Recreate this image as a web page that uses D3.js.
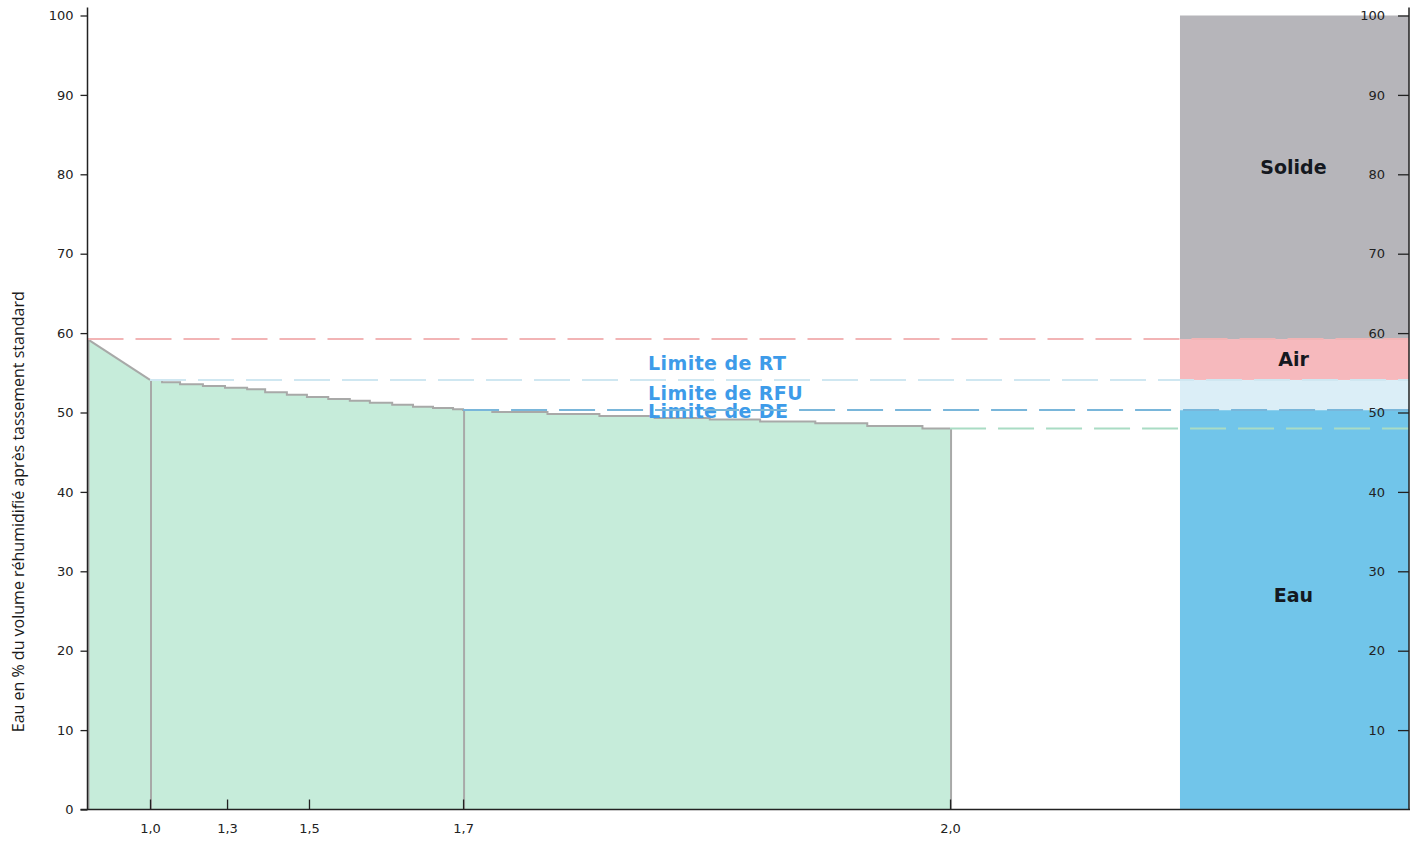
<!DOCTYPE html>
<html lang="fr">
<head>
<meta charset="utf-8">
<script src="https://cdn.jsdelivr.net/npm/d3@7"></script>
<style>
  html, body { margin: 0; padding: 0; background: #fff; }
  svg { display: block; }
  .tick text { font-family: "DejaVu Sans", Verdana, sans-serif; font-size: 13px; fill: #222; }
</style>
</head>
<body>
<svg id="chart" width="1415" height="843"></svg>
<script>
// ---- Data ---------------------------------------------------------------
// pF ticks on the x axis and water-content ticks (% of volume) on both y axes
const pfTicks = [1.0, 1.3, 1.5, 1.7, 2.0];
const yTicksLeft = [0, 10, 20, 30, 40, 50, 60, 70, 80, 90, 100];
const yTicksRight = [10, 20, 30, 40, 50, 60, 70, 80, 90, 100];

// Saturated water content at pF 0
const saturationPf = 0;
const saturationTheta = 59.25;

// Drying curve after pF 1.0: each value holds until the next pF
const dryingPf = [1.0, 1.047, 1.117, 1.206, 1.292, 1.349, 1.393, 1.446, 1.495,
                  1.525, 1.553, 1.579, 1.608, 1.635, 1.661, 1.687,
                  1.7, 1.718, 1.752, 1.784, 1.818, 1.852, 1.883, 1.917, 1.949, 1.983, 2.0];
const dryingTheta = [54.1, 53.8, 53.55, 53.34, 53.12, 52.92, 52.54, 52.24, 51.95,
                     51.7, 51.49, 51.23, 50.98, 50.73, 50.57, 50.4,
                     50.3, 50.06, 49.81, 49.56, 49.31, 49.12, 48.87, 48.64, 48.3, 48.0, 48.0];

// Hydric limits
const limitNames = ["Limite de RT", "Limite de RFU", "Limite de DE"];
const limitPf = [1.0, 1.7, 2.0];
const limitTheta = [54.1, 50.3, 48.0];

// Volume composition column (bottom to top)
const phaseNames = ["Eau", "", "Air", "Solide"];
const phaseBounds = [0, 50.3, 54.1, 59.25, 100];

// ---- Layout & style -----------------------------------------------------
const W = 1415, H = 843;
const margin = { top: 15.5, right: 6, bottom: 33.5, left: 87.5 };
const innerW = W - margin.left - margin.right;
const innerH = H - margin.top - margin.bottom;

// Horizontal placement of pF stops along the plot width (fractions)
const pfStopFractions = [0, 0.0473, 0.1056, 0.1676, 0.2842, 0.6527];
const columnFractions = [0.8267, 1.0];
const labelPf = 1.814;

const phaseColors = ["#71c5ea", "#dbeef7", "#f6b9bd", "#b6b5ba"];
const phaseLabelTheta = [27.0, null, 56.7, 80.9];
const satLineColor = "#f2b4b5";
const limitColors = ["#cfe7f1", "#79b6da", "#a9dcc4"];
const areaFill = "#c6ecda";
const curveStroke = "#a8a9a8";
const limitLabelColor = "#3d9be9";

// ---- Scales -------------------------------------------------------------
const x = d3.scaleLinear()
  .domain([saturationPf, ...pfTicks])
  .range(pfStopFractions.map(f => f * innerW));
const y = d3.scaleLinear().domain([0, 100]).range([innerH, 0]);

const frLocale = d3.formatLocale({ decimal: ",", thousands: " ", grouping: [3], currency: ["", " €"] });
const fmtPf = frLocale.format(".1f");

const svg = d3.select("#chart");
const g = svg.append("g").attr("transform", `translate(${margin.left},${margin.top})`);

// ---- Composition column -------------------------------------------------
const colX0 = columnFractions[0] * innerW, colX1 = columnFractions[1] * innerW;
const phases = phaseNames.map((name, i) => ({
  name, lo: phaseBounds[i], hi: phaseBounds[i + 1], color: phaseColors[i], labelAt: phaseLabelTheta[i]
}));
g.selectAll("rect.phase").data(phases).join("rect")
  .attr("class", "phase")
  .attr("x", colX0).attr("width", colX1 - colX0)
  .attr("y", d => y(d.hi)).attr("height", d => y(d.lo) - y(d.hi))
  .attr("fill", d => d.color);

// ---- Drying curve area --------------------------------------------------
const wetPts = [[saturationPf, saturationTheta], [dryingPf[0], dryingTheta[0]]];
const dryPts = dryingPf.map((p, i) => [p, dryingTheta[i]]);

const areaLin = d3.area().x(d => x(d[0])).y0(y(0)).y1(d => y(d[1])).curve(d3.curveLinear);
const areaStep = d3.area().x(d => x(d[0])).y0(y(0)).y1(d => y(d[1])).curve(d3.curveStepAfter);
g.append("path").attr("d", areaLin(wetPts)).attr("fill", areaFill);
g.append("path").attr("d", areaStep(dryPts)).attr("fill", areaFill);

const lineLin = d3.line().x(d => x(d[0])).y(d => y(d[1])).curve(d3.curveLinear);
const lineStep = d3.line().x(d => x(d[0])).y(d => y(d[1])).curve(d3.curveStepAfter);
g.append("path").attr("d", lineLin(wetPts)).attr("fill", "none")
  .attr("stroke", curveStroke).attr("stroke-width", 2);
g.append("path").attr("d", lineStep(dryPts)).attr("fill", "none")
  .attr("stroke", curveStroke).attr("stroke-width", 2);

// vertical dividers at saturation and each limit
const dividers = [[saturationPf, saturationTheta]].concat(limitPf.map((p, i) => [p, limitTheta[i]]));
g.selectAll("line.divider").data(dividers).join("line")
  .attr("class", "divider")
  .attr("x1", d => x(d[0]) + 1).attr("x2", d => x(d[0]) + 1)
  .attr("y1", d => y(d[1])).attr("y2", y(0))
  .attr("stroke", curveStroke).attr("stroke-width", 2);

// ---- Limit labels -------------------------------------------------------
g.selectAll("text.limit").data(limitNames).join("text")
  .attr("class", "limit")
  .attr("x", x(labelPf))
  .attr("y", (d, i) => y(limitTheta[i]) - 17)
  .attr("dy", "0.35em")
  .attr("font-family", "'DejaVu Sans', Verdana, sans-serif")
  .attr("font-weight", "bold")
  .attr("font-size", 19)
  .attr("letter-spacing", 0.4)
  .attr("fill", limitLabelColor)
  .text(d => d);

// ---- Dashed limit lines -------------------------------------------------
const dashLines = [{ pf: saturationPf, theta: saturationTheta, color: satLineColor }]
  .concat(limitPf.map((p, i) => ({ pf: p, theta: limitTheta[i], color: limitColors[i] })));
g.selectAll("line.limit").data(dashLines).join("line")
  .attr("class", "limit")
  .attr("x1", d => x(d.pf)).attr("x2", innerW)
  .attr("y1", d => y(d.theta)).attr("y2", d => y(d.theta))
  .attr("stroke", d => d.color).attr("stroke-width", 2)
  .attr("stroke-dasharray", "36,12");

// ---- Phase labels -------------------------------------------------------
g.selectAll("text.phase").data(phases.filter(d => d.name)).join("text")
  .attr("class", "phase")
  .attr("x", (colX0 + colX1) / 2 - 1)
  .attr("y", d => y(d.labelAt))
  .attr("dy", "0.35em")
  .attr("text-anchor", "middle")
  .attr("font-family", "'DejaVu Sans', Verdana, sans-serif")
  .attr("font-weight", "bold")
  .attr("font-size", 19)
  .attr("fill", "#141820")
  .text(d => d.name);

// ---- Axes ---------------------------------------------------------------
const axisColor = "#222";
const axisTop = y(100) - 8;

const leftAxis = g.append("g")
  .call(d3.axisLeft(y).tickValues(yTicksLeft).tickSize(7).tickPadding(7).tickFormat(d3.format("d")));
leftAxis.select(".domain").remove();
leftAxis.selectAll(".tick line").attr("stroke", axisColor).attr("stroke-width", 1.3);
g.append("line").attr("x1", 0).attr("x2", 0).attr("y1", axisTop).attr("y2", innerH)
  .attr("stroke", axisColor).attr("stroke-width", 1.5);

const rightAxis = g.append("g").attr("transform", `translate(${innerW},0)`)
  .call(d3.axisLeft(y).tickValues(yTicksRight).tickSize(11).tickPadding(13).tickFormat(d3.format("d")));
rightAxis.select(".domain").remove();
rightAxis.selectAll(".tick line").attr("stroke", axisColor).attr("stroke-width", 1.3);
g.append("line").attr("x1", innerW).attr("x2", innerW).attr("y1", axisTop).attr("y2", innerH)
  .attr("stroke", axisColor).attr("stroke-width", 1.5);

const bottomAxis = g.append("g").attr("transform", `translate(0,${innerH})`)
  .call(d3.axisBottom(x).tickValues(pfTicks).tickSize(-10).tickPadding(14).tickFormat(fmtPf));
bottomAxis.select(".domain").remove();
bottomAxis.selectAll(".tick line").attr("stroke", axisColor).attr("stroke-width", 1.3);
bottomAxis.selectAll(".tick text").attr("dy", "0.71em");
g.append("line").attr("x1", -7).attr("x2", innerW + 1).attr("y1", innerH).attr("y2", innerH)
  .attr("stroke", axisColor).attr("stroke-width", 1.5);

// ---- Y axis title -------------------------------------------------------
svg.append("text")
  .attr("transform", `translate(18,${margin.top + y(37.5)}) rotate(-90)`)
  .attr("text-anchor", "middle")
  .attr("dy", "0.35em")
  .attr("font-family", "'Open Sans', sans-serif")
  .attr("font-size", 16)
  .attr("fill", "#1a1a1a")
  .text("Eau en % du volume réhumidifié après tassement standard");
</script>
</body>
</html>
